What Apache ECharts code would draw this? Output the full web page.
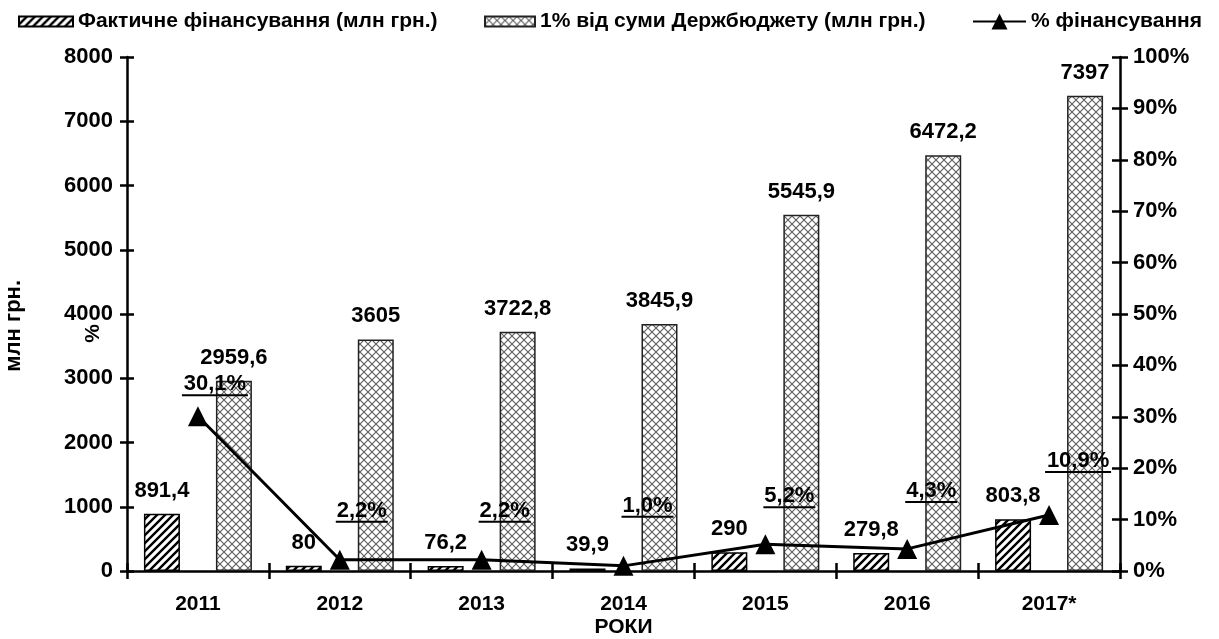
<!DOCTYPE html>
<html>
<head>
<meta charset="utf-8">
<script src="https://cdn.jsdelivr.net/npm/echarts@6/dist/echarts.min.js"></script>
<style>
  html, body { margin: 0; padding: 0; background: #fff; }
  #chart { width: 1219px; height: 639px; }
</style>
</head>
<body>
<div id="chart"></div>
<script>
// ---- data ----
const years = ['2011', '2012', '2013', '2014', '2015', '2016', '2017*'];
const actualFunding = [891.4, 80, 76.2, 39.9, 290, 279.8, 803.8];
const budgetOnePercent = [2959.6, 3605, 3722.8, 3845.9, 5545.9, 6472.2, 7397];
const fundingPercent = [30.1, 2.2, 2.2, 1.0, 5.2, 4.3, 10.9];
const leftTicks = { min: 0, max: 8000, interval: 1000 };
const rightTicks = { min: 0, max: 100, interval: 10 };
const seriesNames = ['Фактичне фінансування (млн грн.)', '1% від суми Держбюджету (млн грн.)', '% фінансування'];

// label offsets for the % labels (style only)
const pctLabelOffsets = [[17, -31], [22, -48], [23, -48], [24, -59], [24, -47], [24, -57], [29, -53]];

// ---- patterns ----
function hatchPattern() {
  const s = 8;
  const c = document.createElement('canvas');
  c.width = s; c.height = s;
  const g = c.getContext('2d');
  g.fillStyle = '#fff'; g.fillRect(0, 0, s, s);
  g.strokeStyle = '#000'; g.lineWidth = 2.4;
  g.beginPath();
  g.moveTo(-2, s + 2); g.lineTo(s + 2, -2);
  g.moveTo(-2, 2); g.lineTo(2, -2);
  g.moveTo(s - 2, s + 2); g.lineTo(s + 2, s - 2);
  g.stroke();
  return c;
}
function crossPattern() {
  const s = 8;
  const c = document.createElement('canvas');
  c.width = s; c.height = s;
  const g = c.getContext('2d');
  g.fillStyle = '#fff'; g.fillRect(0, 0, s, s);
  g.strokeStyle = '#5e5e5e'; g.lineWidth = 1.1;
  g.beginPath();
  g.moveTo(-1, s + 1); g.lineTo(s + 1, -1);
  g.moveTo(-1, -1); g.lineTo(s + 1, s + 1);
  g.stroke();
  return c;
}

const FONT = '"Liberation Sans", Arial, sans-serif';
const fmt = v => String(v).replace('.', ',');

const chart = echarts.init(document.getElementById('chart'), null, { renderer: 'canvas' });

const tickLabelStyle = { fontFamily: FONT, fontWeight: 'bold', fontSize: 22, color: '#000' };
const legendText = { fontFamily: FONT, fontWeight: 'bold', fontSize: 21, color: '#000' };

const option = {
  animation: false,
  backgroundColor: '#fff',
  textStyle: { fontFamily: FONT },
  grid: { left: 127, right: 99, top: 57, bottom: 68, containLabel: false, outerBoundsMode: 'none' },
  legend: [
    { data: [seriesNames[0]], left: 13, top: 6, itemWidth: 54, itemHeight: 10, icon: 'rect', textStyle: legendText },
    { data: [seriesNames[1]], left: 479, top: 6, itemWidth: 50, itemHeight: 10, icon: 'rect', textStyle: legendText },
    { data: [seriesNames[2]], left: 967, top: 6, itemWidth: 53, itemHeight: 20, textStyle: legendText }
  ],
  xAxis: [
    { type: 'category', data: years, position: 'bottom', offset: 0,
      axisLine: { lineStyle: { color: '#000', width: 2.5 } },
      axisTick: { show: true, length: 8, lineStyle: { color: '#000', width: 2.5 } },
      axisLabel: { margin: 23, fontFamily: FONT, fontWeight: 'bold', fontSize: 21, color: '#000' },
      name: 'РОКИ', nameLocation: 'middle', nameGap: 46, nameMoveOverlap: false,
      nameTextStyle: { fontFamily: FONT, fontWeight: 'bold', fontSize: 21, color: '#000' } },
    { type: 'category', data: years, position: 'bottom', offset: 0,
      axisLine: { show: false },
      axisTick: { show: true, inside: true, length: 8, lineStyle: { color: '#000', width: 2.5 } },
      axisLabel: { show: false } }
  ],
  yAxis: [
    { type: 'value', position: 'left', offset: 0, min: leftTicks.min, max: leftTicks.max, interval: leftTicks.interval,
      axisLine: { show: true, lineStyle: { color: '#000', width: 2.5 } },
      axisTick: { show: true, length: 7, lineStyle: { color: '#000', width: 2.5 } },
      axisLabel: Object.assign({ margin: 14, formatter: v => String(v) }, tickLabelStyle),
      splitLine: { show: false } },
    { type: 'value', position: 'right', offset: 0, min: rightTicks.min, max: rightTicks.max, interval: rightTicks.interval,
      axisLine: { show: true, lineStyle: { color: '#000', width: 2.5 } },
      axisTick: { show: true, length: 8, lineStyle: { color: '#000', width: 2.5 } },
      axisLabel: Object.assign({ margin: 13, formatter: v => v + '%' }, tickLabelStyle),
      splitLine: { show: false } },
    { type: 'value', position: 'left', offset: 0, min: leftTicks.min, max: leftTicks.max, interval: leftTicks.interval,
      axisLine: { show: false },
      axisTick: { show: true, inside: true, length: 7, lineStyle: { color: '#000', width: 2.5 } },
      axisLabel: { show: false }, splitLine: { show: false } },
    { type: 'value', position: 'right', offset: 0, min: rightTicks.min, max: rightTicks.max, interval: rightTicks.interval,
      axisLine: { show: false },
      axisTick: { show: true, inside: true, length: 8, lineStyle: { color: '#000', width: 2.5 } },
      axisLabel: { show: false }, splitLine: { show: false } }
  ],
  graphic: [
    { type: 'text', left: 3, top: 280, rotation: Math.PI / 2,
      style: { text: 'млн грн.', fill: '#000', font: 'bold 22px ' + FONT } },
    { type: 'text', left: 83, top: 324, rotation: Math.PI / 2,
      style: { text: '%', fill: '#000', font: 'bold 21px ' + FONT } }
  ],
  series: [
    { name: seriesNames[0], type: 'bar', xAxisIndex: 0, yAxisIndex: 0, data: actualFunding,
      barWidth: 36, barGap: '100%',
      itemStyle: { color: { image: hatchPattern(), repeat: 'repeat' }, borderColor: '#000', borderWidth: 1.5 },
      label: { show: true, position: 'top', distance: 12, formatter: p => fmt(p.value),
        fontFamily: FONT, fontWeight: 'bold', fontSize: 22, color: '#000' } },
    { name: seriesNames[1], type: 'bar', xAxisIndex: 0, yAxisIndex: 0, data: budgetOnePercent,
      barWidth: 36, barGap: '100%',
      itemStyle: { color: { image: crossPattern(), repeat: 'repeat' }, borderColor: '#222', borderWidth: 1.5 },
      label: { show: true, position: 'top', distance: 12, formatter: p => fmt(p.value),
        fontFamily: FONT, fontWeight: 'bold', fontSize: 22, color: '#000' } },
    { name: seriesNames[2], type: 'line', xAxisIndex: 0, yAxisIndex: 1,
      data: fundingPercent.map((v, i) => ({
        value: v,
        label: { offset: pctLabelOffsets[i] }
      })),
      color: '#000',
      lineStyle: { color: '#000', width: 3 },
      symbol: 'triangle', symbolSize: 20, showAllSymbol: true,
      itemStyle: { color: '#000' },
      z: 5,
      label: { show: true, position: 'inside',
        formatter: p => {
          const t = p.value.toFixed(1).replace('.', ',') + '%';
          return '{t|' + t + '}\n{' + (t.length > 4 ? 'u5' : 'u4') + '|}';
        },
        rich: {
          t: { fontFamily: FONT, fontWeight: 'bold', fontSize: 22, color: '#000', lineHeight: 20, align: 'center' },
          u4: { width: 52, height: 2, backgroundColor: '#000', align: 'center' },
          u5: { width: 66, height: 2, backgroundColor: '#000', align: 'center' }
        }
      } }
  ]
};

chart.setOption(option);
</script>
</body>
</html>
